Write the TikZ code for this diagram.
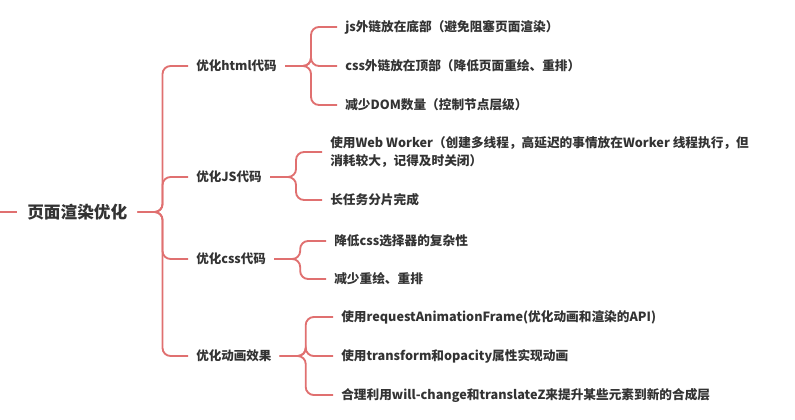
\documentclass[tikz,border=0pt]{standalone}
\usepackage{fontspec}
\setmainfont{Noto Sans CJK SC}
\usepackage{xcolor}
\usetikzlibrary{positioning,calc}
\definecolor{linkred}{RGB}{224,112,112}
\definecolor{txtgray}{RGB}{51,51,51}

\begin{document}
\begin{tikzpicture}[
        x=0.75pt, y=-0.75pt,
        text=txtgray,
        rt/.style={anchor=west, inner xsep=7.5pt, inner ysep=1pt, font=\fontsize{12.5}{15}\selectfont\bfseries},
        br/.style={anchor=west, inner xsep=6pt, inner ysep=1pt, font=\fontsize{9.4}{14}\selectfont\bfseries},
        lf/.style={anchor=west, inner xsep=6pt, inner ysep=1pt, align=left, font=\fontsize{9.5}{14.2}\selectfont\bfseries},
        ln/.style={draw=linkred, line width=1.4pt, rounded corners=6pt}
    ]
        \useasboundingbox (0,0) rectangle (795,420);
        % root
        \coordinate (lft) at (0,212);
        \node[rt] (root) at (17,212) {页面渲染优化};
        \draw[ln] (lft) -- (root.west);
        % branches
        \node[br] (html) at (188,66) {优化html代码};
        \node[br] (js) at (188,177) {优化JS代码};
        \node[br] (css) at (188,259) {优化css代码};
        \node[br] (anim) at (188,356) {优化动画效果};
        % leaves
        \node[lf] (html1) at (337,27) {js外链放在底部（避免阻塞页面渲染）};
        \node[lf] (html2) at (337,66) {css外链放在顶部（降低页面重绘、重排）};
        \node[lf] (html3) at (337,105) {减少DOM数量（控制节点层级）};
        \node[lf] (js1) at (322,152) {使用Web Worker（创建多线程，高延迟的事情放在Worker 线程执行，但\\消耗较大，记得及时关闭）};
        \node[lf] (js2) at (322,200) {长任务分片完成};
        \node[lf] (css1) at (326,241) {降低css选择器的复杂性};
        \node[lf] (css2) at (326,279) {减少重绘、重排};
        \node[lf] (anim1) at (333,317) {使用requestAnimationFrame(优化动画和渲染的API)};
        \node[lf] (anim2) at (333,356) {使用transform和opacity属性实现动画};
        \node[lf] (anim3) at (333,395) {合理利用will-change和translateZ来提升某些元素到新的合成层};
        % connectors
        \foreach \b in {html,js,css,anim}
            \draw[ln] (root.east) -- ++(25,0) |- (\b.west);
        \foreach \c in {html1,html2,html3}
            \draw[ln] (html.east) -- ++(26,0) |- (\c.west);
        \foreach \c in {js1,js2}
            \draw[ln] (js.east) -- ++(26,0) |- (\c.west);
        \foreach \c in {css1,css2}
            \draw[ln] (css.east) -- ++(26,0) |- (\c.west);
        \foreach \c in {anim1,anim2,anim3}
            \draw[ln] (anim.east) -- ++(26,0) |- (\c.west);
    \end{tikzpicture}
\end{document}
